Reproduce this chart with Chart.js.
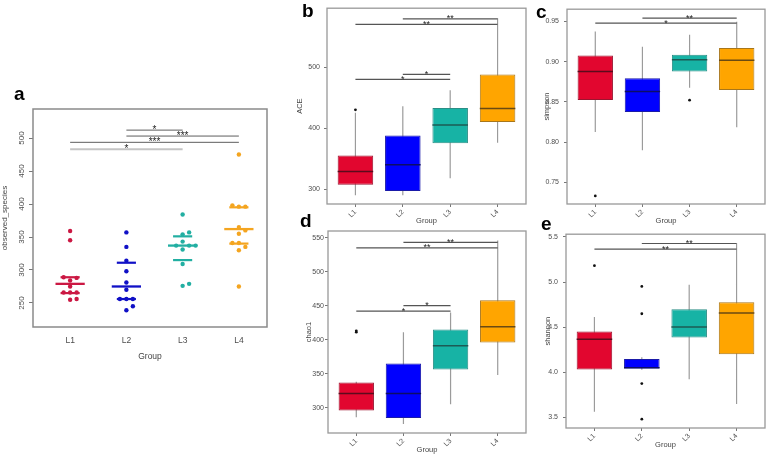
<!DOCTYPE html>
<html><head><meta charset="utf-8">
<script src="https://cdn.jsdelivr.net/npm/chart.js@4.4.1/dist/chart.umd.min.js"></script>
<style>
html,body{margin:0;padding:0;background:#fff}
body{position:relative;width:769px;height:454px;overflow:hidden}
canvas{position:absolute;display:block}
.lab{position:absolute;font:bold 19px "Liberation Sans",Arial,sans-serif;line-height:19px;color:#000;z-index:5}
</style></head><body>
<canvas id="cA" width="275" height="272" style="left:0;top:100px"></canvas>
<canvas id="cB" width="270" height="225" style="left:260px;top:0"></canvas>
<canvas id="cC" width="239" height="225" style="left:530px;top:0"></canvas>
<canvas id="cD" width="270" height="229" style="left:260px;top:225px"></canvas>
<canvas id="cE" width="239" height="229" style="left:530px;top:225px"></canvas>
<div class="lab" style="left:14px;top:84px">a</div>
<div class="lab" style="left:302px;top:1px">b</div>
<div class="lab" style="left:536px;top:2px">c</div>
<div class="lab" style="left:300px;top:211px">d</div>
<div class="lab" style="left:541px;top:214px">e</div>
<script>
const groups = ['L1', 'L2', 'L3', 'L4'];

// ---- panel a : observed_species (individual samples)
const aL1 = [359, 345, 289, 288, 284, 275, 266, 266, 266, 256, 255];
const aL2 = [357, 335, 314, 298, 281, 270, 256, 256, 256, 245, 239];
const aL3 = [384, 357, 354, 343, 337, 337, 337, 331, 309, 279, 276];
const aL4 = [475, 398, 396, 396, 365, 360, 355, 341, 341, 335, 330, 275];
const aMedian = [279, 275, 337, 362];
const aLowerQ = [265, 256, 315, 340];
const aUpperQ = [289, 311, 351, 395];
const aTicks = [250, 300, 350, 400, 450, 500];
const aSigFrom = [2, 2, 1, 1];
const aSigTo = [3, 4, 4, 3];
const aSigY = [512, 503, 493.5, 483];
const aSigText = ['*', '***', '***', '*'];

// ---- panel b : ACE
const bLow = [290, 290, 318, 376];
const bQ1 = [307, 297, 375, 410];
const bMed = [329, 340, 405, 432];
const bQ3 = [355, 388, 433, 488];
const bHigh = [425, 436, 462, 580];
const bOut = [[430], [], [], []];
const bTicks = [300, 400, 500];
const bSigFrom = [2, 1, 2, 1];
const bSigTo = [4, 4, 3, 3];
const bSigY = [579, 570, 488, 480];
const bSigText = ['**', '**', '*', '*'];

// ---- panel c : simpson
const cLow = [0.8127, 0.790, 0.8678, 0.8187];
const cQ1 = [0.8526, 0.8375, 0.8877, 0.865];
const cMed = [0.8877, 0.863, 0.9025, 0.9017];
const cQ3 = [0.9077, 0.8793, 0.9085, 0.9169];
const cHigh = [0.9376, 0.9186, 0.9336, 0.9496];
const cOut = [[0.7333], [], [0.8522], []];
const cTicks = [0.75, 0.80, 0.85, 0.90, 0.95];
const cSigFrom = [2, 1];
const cSigTo = [4, 4];
const cSigY = [0.954, 0.948];
const cSigText = ['**', '*'];

// ---- panel d : chao1
const dLow = [286, 276, 305, 348];
const dQ1 = [296, 285, 356, 396];
const dMed = [321, 321, 391, 419];
const dQ3 = [337, 365, 415, 458];
const dHigh = [338, 411, 440, 546];
const dOut = [[411, 413], [], [], []];
const dTicks = [300, 350, 400, 450, 500, 550];
const dSigFrom = [2, 1, 2, 1];
const dSigTo = [4, 4, 3, 3];
const dSigY = [543, 535, 450, 442];
const dSigText = ['**', '**', '*', '*'];

// ---- panel e : shannon
const eLow = [3.565, 4.03, 3.923, 3.649];
const eQ1 = [4.032, 4.043, 4.386, 4.20];
const eMed = [4.368, 4.05, 4.503, 4.657];
const eQ3 = [4.452, 4.149, 4.70, 4.777];
const eHigh = [4.613, 4.167, 4.97, 5.43];
const eOut = [[5.182], [4.952, 4.649, 3.876, 3.482], [], []];
const eTicks = [3.5, 4.0, 4.5, 5.0, 5.5];
const eSigFrom = [2, 1];
const eSigTo = [4, 4];
const eSigY = [5.427, 5.365];
const eSigText = ['**', '**'];

// ---- styles
const FONT = '"Liberation Sans", Arial, Helvetica, sans-serif';
const fillColors = ['#E2062F', '#0000FE', '#17B3A5', '#FFA500'];
const edgeColors = ['#9C1530', '#1A1AA8', '#2B8E86', '#A8761A'];
const medColors = ['#5C0B1C', '#0D0D66', '#1C5B55', '#6A4A12'];
const dotColors = ['#CB1843', '#1010C6', '#22AFA2', '#F4A520'];
Chart.defaults.font.family = FONT;

const framePlugin = {
  id: 'frame',
  afterDatasetsDraw(chart, args, o) {
    if (!o || !o.color) return;
    const {ctx, chartArea: a} = chart;
    ctx.save(); ctx.strokeStyle = o.color; ctx.lineWidth = o.width;
    ctx.strokeRect(a.left, a.top, a.right - a.left, a.bottom - a.top);
    ctx.restore();
  }
};
const starsPlugin = {
  id: 'stars',
  afterDatasetsDraw(chart, args, o) {
    if (!o || !o.from) return;
    const {ctx, scales: {x, y}} = chart;
    ctx.save(); ctx.fillStyle = '#222'; ctx.font = o.size + 'px ' + FONT;
    ctx.textAlign = 'center'; ctx.textBaseline = 'alphabetic';
    o.from.forEach((f, k) => {
      const px = (x.getPixelForValue(f) + x.getPixelForValue(o.to[k])) / 2;
      ctx.fillText(o.text[k], px, y.getPixelForValue(o.y[k]) + o.dy);
    });
    ctx.restore();
  }
};
const rotYPlugin = {
  id: 'rotY',
  afterDraw(chart, args, o) {
    if (!o || o.x === undefined) return;
    const {ctx, scales: {y}} = chart;
    ctx.save(); ctx.fillStyle = o.color; ctx.font = o.size + 'px ' + FONT;
    ctx.textAlign = 'center'; ctx.textBaseline = 'middle';
    y.ticks.forEach(t => {
      ctx.save(); ctx.translate(o.x, y.getPixelForValue(t.value)); ctx.rotate(-Math.PI / 2);
      ctx.fillText(String(t.value), 0, 0); ctx.restore();
    });
    ctx.restore();
  }
};
Chart.register(framePlugin, starsPlugin, rotYPlugin);

function xScale(o) {
  return {
    type: 'linear', min: o.min, max: o.max, offset: false,
    afterBuildTicks: s => { s.ticks = groups.map((g, i) => ({value: i + 1})); },
    afterFit: s => { s.height = o.height; },
    ticks: {callback: v => groups[Math.round(v) - 1] || '', minRotation: o.rot, maxRotation: o.rot,
      autoSkip: false, font: {size: o.fs}, color: '#4d4d4d', padding: o.pad},
    grid: {display: true, drawOnChartArea: false, drawTicks: o.tick, tickLength: 3, color: '#777', offset: false},
    border: {display: false},
    title: {display: true, text: 'Group', font: {size: o.tfs}, color: '#444', padding: {top: 0, bottom: o.tpad}}
  };
}
function yScale(o) {
  return {
    type: 'linear', min: o.min, max: o.max, beginAtZero: false,
    afterBuildTicks: s => { s.ticks = o.ticks.map(v => ({value: v})); },
    afterFit: s => { s.width = o.width; },
    ticks: {display: o.showLabels, callback: o.fmt, font: {size: o.fs}, color: '#4d4d4d', padding: o.lpad},
    grid: {display: true, drawOnChartArea: false, drawTicks: true, tickLength: o.tl, color: '#777'},
    border: {display: false},
    title: {display: true, text: o.title, font: {size: o.tfs}, color: '#444', padding: {top: o.tpad, bottom: 0}}
  };
}

// ---- panel a chart
function swarmOffsets(vals) {
  const stepPx = 6.5, dotPx = 4, yPx = 0.66, unitPx = 56.3;
  const order = vals.map((v, i) => ({v, i})).sort((a, b) => a.v - b.v);
  const placed = [], off = new Array(vals.length).fill(0);
  order.forEach(p => {
    for (let k = 0; k < 40; k++) {
      const c = k === 0 ? 0 : (k % 2 ? (k + 1) / 2 : -k / 2);
      const ok = placed.every(q => Math.hypot((c - q.c) * stepPx, (p.v - q.v) * yPx) >= dotPx);
      if (ok) { placed.push({c, v: p.v}); off[p.i] = c * stepPx / unitPx; break; }
    }
  });
  return off;
}
(function () {
  const series = [aL1, aL2, aL3, aL4];
  const ds = [];
  series.forEach((vals, i) => {
    const off = swarmOffsets(vals);
    ds.push({data: vals.map((v, k) => ({x: i + 1 + off[k], y: v})), showLine: false,
      pointRadius: 2.2, pointBorderWidth: 0, pointBackgroundColor: dotColors[i], order: 2});
    ds.push({data: [{x: i + 1 - 0.26, y: aMedian[i]}, {x: i + 1 + 0.26, y: aMedian[i]}],
      borderColor: dotColors[i], borderWidth: 2.3, pointRadius: 0, order: 1});
    [aLowerQ[i], aUpperQ[i]].forEach(q => ds.push({data: [{x: i + 1 - 0.17, y: q}, {x: i + 1 + 0.17, y: q}],
      borderColor: dotColors[i], borderWidth: 2.2, pointRadius: 0, order: 1}));
  });
  aSigFrom.forEach((f, k) => ds.push({data: [{x: f, y: aSigY[k]}, {x: aSigTo[k], y: aSigY[k]}],
    borderColor: k === 3 ? '#c4c4c4' : '#5e5e5e', borderWidth: k === 3 ? 2.2 : 1, pointRadius: 0, order: 0}));
  new Chart(document.getElementById('cA'), {
    type: 'line', data: {datasets: ds},
    options: {
      responsive: false, animation: false, devicePixelRatio: 1, events: [],
      layout: {padding: {top: 9, right: 8, left: 0, bottom: 0}},
      scales: {
        x: xScale({min: 0.34, max: 4.5, height: 45, rot: 0, fs: 8.5, pad: 9, tick: false, tfs: 8.5, tpad: 10}),
        y: yScale({min: 213.6, max: 544, ticks: aTicks, width: 33, showLabels: false, fs: 8, tl: 4, lpad: 3,
          title: 'observed_species', tfs: 8, tpad: 0})
      },
      plugins: {legend: {display: false}, tooltip: {enabled: false},
        frame: {color: '#8a8a8a', width: 1.5},
        stars: {from: aSigFrom, to: aSigTo, y: aSigY, text: aSigText, size: 10, dy: 2.5},
        rotY: {x: 22, size: 8, color: '#4d4d4d'}}
    }
  });
})();

// ---- box panels
function boxChart(id, d) {
  const ds = [];
  ds.push({type: 'line', data: groups.flatMap((g, i) => [{x: i + 1, y: d.low[i]}, {x: i + 1, y: d.high[i]}, {x: i + 1, y: null}]),
    borderColor: '#9b9b9b', borderWidth: 1.2, pointRadius: 0, spanGaps: false, order: 5});
  ds.push({type: 'bar', data: groups.map((g, i) => ({x: i + 1, y: [d.q1[i], d.q3[i]]})),
    backgroundColor: fillColors, borderColor: edgeColors, borderWidth: 1, borderSkipped: false,
    barPercentage: 0.75, categoryPercentage: 1, order: 4});
  groups.forEach((g, i) => ds.push({type: 'line', data: [{x: i + 1 - 0.375, y: d.med[i]}, {x: i + 1 + 0.375, y: d.med[i]}],
    borderColor: medColors[i], borderWidth: 1.5, pointRadius: 0, order: 3}));
  ds.push({type: 'line', showLine: false, data: d.out.flatMap((arr, i) => arr.map(v => ({x: i + 1, y: v}))),
    pointRadius: 1.4, pointBorderWidth: 0, pointBackgroundColor: '#111', order: 2});
  d.sigFrom.forEach((f, k) => ds.push({type: 'line', data: [{x: f, y: d.sigY[k]}, {x: d.sigTo[k], y: d.sigY[k]}],
    borderColor: '#555', borderWidth: 1.2, pointRadius: 0, order: 1}));
  new Chart(document.getElementById(id), {
    type: 'bar', data: {datasets: ds},
    options: {
      responsive: false, animation: false, devicePixelRatio: 1, events: [],
      layout: {padding: {top: d.padTop, right: 2, left: 0, bottom: 0}},
      scales: {
        x: xScale({min: 0.4, max: 4.6, height: d.xh, rot: 45, fs: 7, pad: 1, tick: true, tfs: 7.5, tpad: d.gpad}),
        y: yScale({min: d.min, max: d.max, ticks: d.ticks, width: d.yw, showLabels: true, fmt: d.fmt, fs: 7, tl: 3,
          lpad: d.lpad, title: d.title, tfs: 7.5, tpad: d.tpad})
      },
      plugins: {legend: {display: false}, tooltip: {enabled: false},
        frame: {color: '#999', width: 1.3},
        stars: {from: d.sigFrom, to: d.sigTo, y: d.sigY, text: d.sigText, size: 9, dy: 2.5}}
    }
  });
}
const fmt0 = v => String(v), fmt2 = v => v.toFixed(2), fmt1 = v => v.toFixed(1);
boxChart('cB', {low: bLow, q1: bQ1, med: bMed, q3: bQ3, high: bHigh, out: bOut, ticks: bTicks,
  sigFrom: bSigFrom, sigTo: bSigTo, sigY: bSigY, sigText: bSigText, min: 275.6, max: 596.6,
  padTop: 3, xh: 21, yw: 67, fmt: fmt0, title: 'ACE', tpad: 35, gpad: 0, lpad: 4});
boxChart('cC', {low: cLow, q1: cQ1, med: cMed, q3: cQ3, high: cHigh, out: cOut, ticks: cTicks,
  sigFrom: cSigFrom, sigTo: cSigTo, sigY: cSigY, sigText: cSigText, min: 0.7233, max: 0.9652,
  padTop: 2, xh: 21, yw: 37, fmt: fmt2, title: 'simpson', tpad: 12.5, gpad: 0, lpad: 5});
boxChart('cD', {low: dLow, q1: dQ1, med: dMed, q3: dQ3, high: dHigh, out: dOut, ticks: dTicks,
  sigFrom: dSigFrom, sigTo: dSigTo, sigY: dSigY, sigText: dSigText, min: 262.8, max: 559.8,
  padTop: 6, xh: 21, yw: 68, fmt: fmt0, title: 'chao1', tpad: 44, gpad: 0, lpad: 1});
boxChart('cE', {low: eLow, q1: eQ1, med: eMed, q3: eQ3, high: eHigh, out: eOut, ticks: eTicks,
  sigFrom: eSigFrom, sigTo: eSigTo, sigY: eSigY, sigText: eSigText, min: 3.384, max: 5.53,
  padTop: 7, xh: 26, yw: 36, fmt: fmt1, title: 'shannon', tpad: 13.5, gpad: 4.5, lpad: 5});
</script>
</body></html>
